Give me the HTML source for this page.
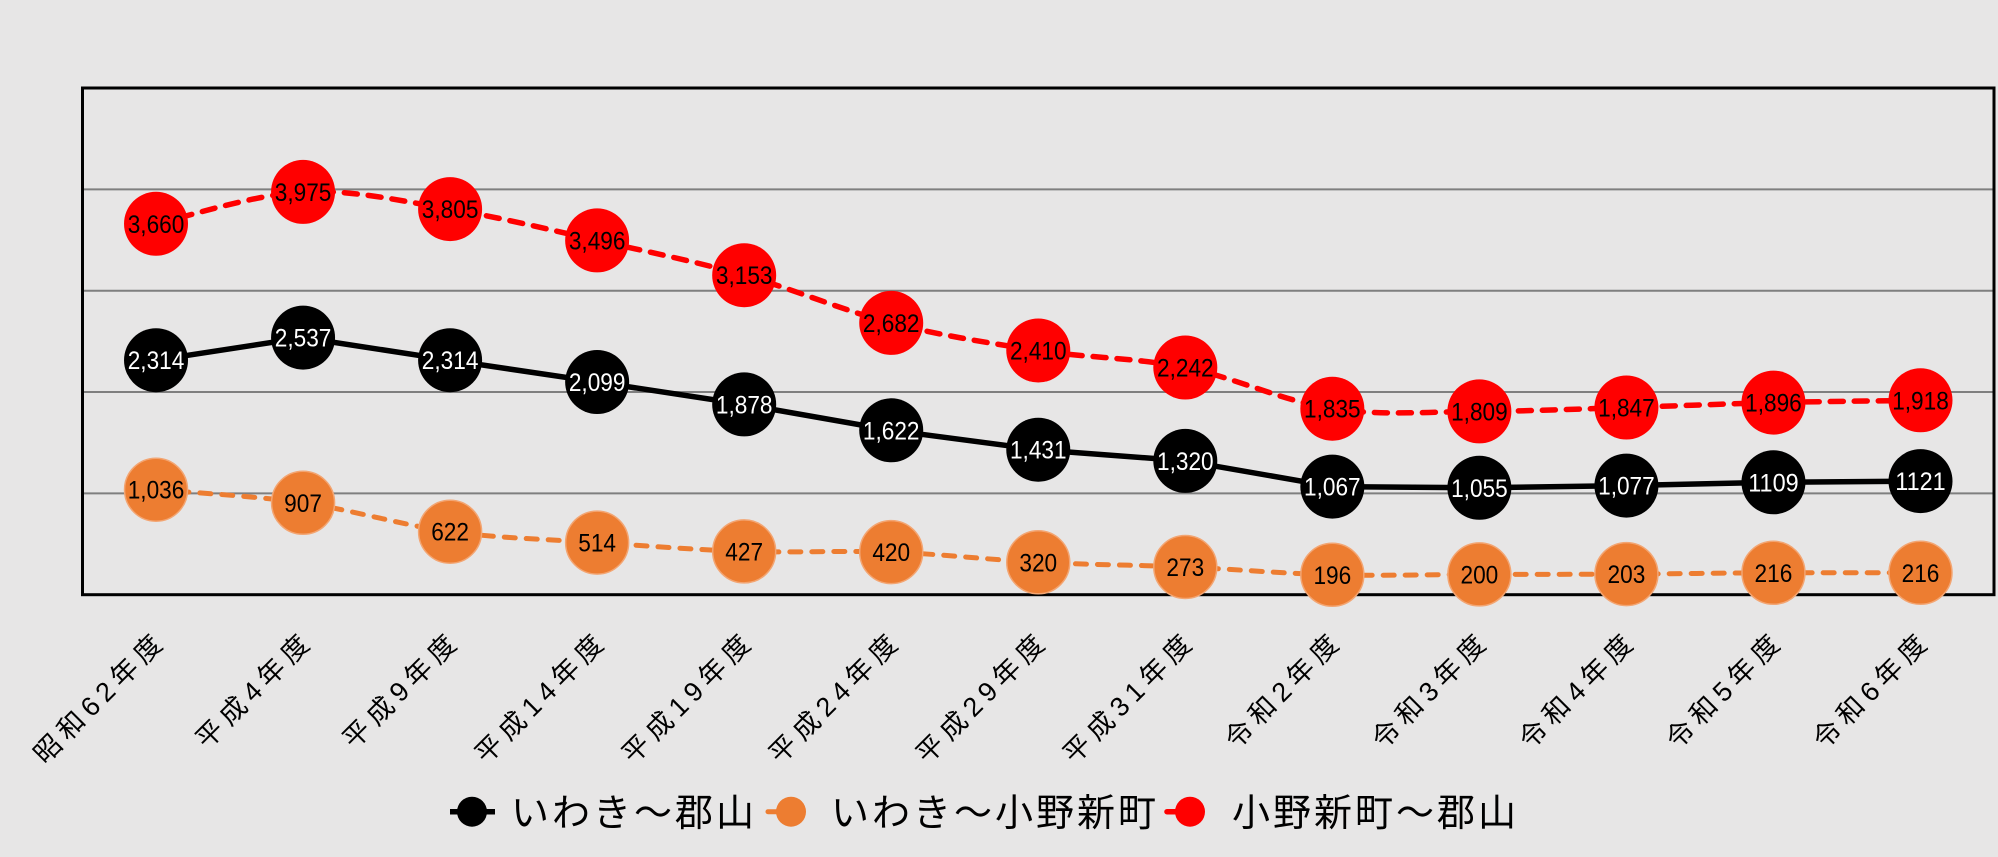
<!DOCTYPE html>
<html>
<head>
<meta charset="utf-8">
<style>
  html,body{margin:0;padding:0;background:#E7E6E6;}
  svg{display:block;}
  .v{font-family:"Liberation Sans","Noto Sans CJK JP",sans-serif;font-size:25px;text-anchor:middle;}
  .xl{font-family:"Liberation Sans","Noto Sans CJK JP",sans-serif;font-size:27px;letter-spacing:6px;text-anchor:end;fill:#000;}
  .lg{font-family:"Liberation Sans","Noto Sans CJK JP",sans-serif;font-size:38px;letter-spacing:3px;fill:#000;}
</style>
</head>
<body>
<svg width="1998" height="857" viewBox="0 0 1998 857" xmlns="http://www.w3.org/2000/svg">
  <rect x="0" y="0" width="1998" height="857" fill="#E7E6E6"/>

  <!-- gridlines -->
  <g stroke="#7F7F7F" stroke-width="2">
    <line x1="82.5" y1="189.4" x2="1994" y2="189.4"/>
    <line x1="82.5" y1="290.7" x2="1994" y2="290.7"/>
    <line x1="82.5" y1="392.0" x2="1994" y2="392.0"/>
    <line x1="82.5" y1="493.4" x2="1994" y2="493.4"/>
  </g>

  <!-- frame -->
  <rect x="82.5" y="88" width="1911.5" height="506.7" fill="none" stroke="#000" stroke-width="3"/>

  <!-- black series line -->
  <polyline fill="none" stroke="#000" stroke-width="5.5" stroke-linejoin="round"
    points="156.02,360.2 303.06,337.6 450.1,360.2 597.14,382.0 744.18,404.4 891.22,430.3 1038.26,449.7 1185.3,460.9 1332.34,486.6 1479.38,487.8 1626.42,485.6 1773.46,482.3 1920.5,481.1"/>

  <!-- orange series line -->
  <path fill="none" stroke="#ED7D31" stroke-width="5" stroke-dasharray="11 11" stroke-linecap="round"
    d="M156.02,489.7 C180.5,491.9 254.06,495.8 303.06,502.8 C352.07,509.8 401.1,525.1 450.1,531.7 C499.1,538.3 548.1,539.3 597.14,542.6 C646.2,545.9 695.2,549.8 744.18,551.4 C793.2,553.0 842.2,550.3 891.22,552.1 C940.2,553.9 989.3,559.8 1038.26,562.3 C1087.3,564.8 1136.3,564.9 1185.3,567.0 C1234.3,569.1 1283.3,573.6 1332.34,574.8 C1381.3,576.0 1430.4,574.5 1479.38,574.4 C1528.4,574.3 1577.4,574.4 1626.42,574.1 C1675.4,573.8 1724.5,573.0 1773.46,572.8 C1822.5,572.6 1896,572.8 1920.5,572.8"/>

  <!-- red series line -->
  <path fill="none" stroke="#FF0000" stroke-width="5.5" stroke-dasharray="13 11" stroke-linecap="round"
    d="M156.02,223.8 C180.5,218.5 254.06,194.35 303.06,191.9 C352.07,189.45 401.1,201.0 450.1,209.1 C499.1,217.2 548.1,229.4 597.14,240.4 C646.2,251.4 695.2,261.5 744.18,275.2 C793.2,288.9 842.2,310.4 891.22,322.9 C940.2,335.4 989.3,343.1 1038.26,350.5 C1087.3,357.9 1136.3,357.8 1185.3,367.5 C1234.3,377.2 1283.3,401.4 1332.34,408.7 C1381.3,416.0 1430.4,411.6 1479.38,411.4 C1528.4,411.2 1577.4,409.0 1626.42,407.5 C1675.4,406.0 1724.5,403.8 1773.46,402.6 C1822.5,401.4 1896,400.7 1920.5,400.3"/>

  <!-- black markers -->
  <g fill="#000">
    <circle cx="156.02" cy="360.2" r="32"/>
    <circle cx="303.06" cy="337.6" r="32"/>
    <circle cx="450.1" cy="360.2" r="32"/>
    <circle cx="597.14" cy="382.0" r="32"/>
    <circle cx="744.18" cy="404.4" r="32"/>
    <circle cx="891.22" cy="430.3" r="32"/>
    <circle cx="1038.26" cy="449.7" r="32"/>
    <circle cx="1185.3" cy="460.9" r="32"/>
    <circle cx="1332.34" cy="486.6" r="32"/>
    <circle cx="1479.38" cy="487.8" r="32"/>
    <circle cx="1626.42" cy="485.6" r="32"/>
    <circle cx="1773.46" cy="482.3" r="32"/>
    <circle cx="1920.5" cy="481.1" r="32"/>
  </g>

  <!-- orange markers -->
  <g fill="#ED7D31" stroke="#F3A572" stroke-width="1.5">
    <circle cx="156.02" cy="489.7" r="31.5"/>
    <circle cx="303.06" cy="502.8" r="31.5"/>
    <circle cx="450.1" cy="531.7" r="31.5"/>
    <circle cx="597.14" cy="542.6" r="31.5"/>
    <circle cx="744.18" cy="551.4" r="31.5"/>
    <circle cx="891.22" cy="552.1" r="31.5"/>
    <circle cx="1038.26" cy="562.3" r="31.5"/>
    <circle cx="1185.3" cy="567.0" r="31.5"/>
    <circle cx="1332.34" cy="574.8" r="31.5"/>
    <circle cx="1479.38" cy="574.4" r="31.5"/>
    <circle cx="1626.42" cy="574.1" r="31.5"/>
    <circle cx="1773.46" cy="572.8" r="31.5"/>
    <circle cx="1920.5" cy="572.8" r="31.5"/>
  </g>

  <!-- red markers -->
  <g fill="#FF0000">
    <circle cx="156.02" cy="223.8" r="32"/>
    <circle cx="303.06" cy="191.9" r="32"/>
    <circle cx="450.1" cy="209.1" r="32"/>
    <circle cx="597.14" cy="240.4" r="32"/>
    <circle cx="744.18" cy="275.2" r="32"/>
    <circle cx="891.22" cy="322.9" r="32"/>
    <circle cx="1038.26" cy="350.5" r="32"/>
    <circle cx="1185.3" cy="367.5" r="32"/>
    <circle cx="1332.34" cy="408.7" r="32"/>
    <circle cx="1479.38" cy="411.4" r="32"/>
    <circle cx="1626.42" cy="407.5" r="32"/>
    <circle cx="1773.46" cy="402.6" r="32"/>
    <circle cx="1920.5" cy="400.3" r="32"/>
  </g>

  <!-- black labels (white text) -->
  <g class="v" fill="#FFFFFF">
    <text x="156.02" y="369.2" textLength="56.6" lengthAdjust="spacingAndGlyphs">2,314</text>
    <text x="303.06" y="346.6" textLength="56.6" lengthAdjust="spacingAndGlyphs">2,537</text>
    <text x="450.1" y="369.2" textLength="56.6" lengthAdjust="spacingAndGlyphs">2,314</text>
    <text x="597.14" y="391.0" textLength="56.6" lengthAdjust="spacingAndGlyphs">2,099</text>
    <text x="744.18" y="413.4" textLength="56.6" lengthAdjust="spacingAndGlyphs">1,878</text>
    <text x="891.22" y="439.3" textLength="56.6" lengthAdjust="spacingAndGlyphs">1,622</text>
    <text x="1038.26" y="458.7" textLength="56.6" lengthAdjust="spacingAndGlyphs">1,431</text>
    <text x="1185.3" y="469.9" textLength="56.6" lengthAdjust="spacingAndGlyphs">1,320</text>
    <text x="1332.34" y="495.6" textLength="56.6" lengthAdjust="spacingAndGlyphs">1,067</text>
    <text x="1479.38" y="496.8" textLength="56.6" lengthAdjust="spacingAndGlyphs">1,055</text>
    <text x="1626.42" y="494.6" textLength="56.6" lengthAdjust="spacingAndGlyphs">1,077</text>
    <text x="1773.46" y="491.3" textLength="50.4" lengthAdjust="spacingAndGlyphs">1109</text>
    <text x="1920.5" y="490.1" textLength="50.4" lengthAdjust="spacingAndGlyphs">1121</text>
  </g>

  <!-- orange labels -->
  <g class="v" fill="#000">
    <text x="156.02" y="498.7" textLength="56.6" lengthAdjust="spacingAndGlyphs">1,036</text>
    <text x="303.06" y="511.8" textLength="37.8" lengthAdjust="spacingAndGlyphs">907</text>
    <text x="450.1" y="540.7" textLength="37.8" lengthAdjust="spacingAndGlyphs">622</text>
    <text x="597.14" y="551.6" textLength="37.8" lengthAdjust="spacingAndGlyphs">514</text>
    <text x="744.18" y="560.4" textLength="37.8" lengthAdjust="spacingAndGlyphs">427</text>
    <text x="891.22" y="561.1" textLength="37.8" lengthAdjust="spacingAndGlyphs">420</text>
    <text x="1038.26" y="571.3" textLength="37.8" lengthAdjust="spacingAndGlyphs">320</text>
    <text x="1185.3" y="576.0" textLength="37.8" lengthAdjust="spacingAndGlyphs">273</text>
    <text x="1332.34" y="583.8" textLength="37.8" lengthAdjust="spacingAndGlyphs">196</text>
    <text x="1479.38" y="583.4" textLength="37.8" lengthAdjust="spacingAndGlyphs">200</text>
    <text x="1626.42" y="583.1" textLength="37.8" lengthAdjust="spacingAndGlyphs">203</text>
    <text x="1773.46" y="581.8" textLength="37.8" lengthAdjust="spacingAndGlyphs">216</text>
    <text x="1920.5" y="581.8" textLength="37.8" lengthAdjust="spacingAndGlyphs">216</text>
  </g>

  <!-- red labels -->
  <g class="v" fill="#000">
    <text x="156.02" y="232.8" textLength="56.6" lengthAdjust="spacingAndGlyphs">3,660</text>
    <text x="303.06" y="200.9" textLength="56.6" lengthAdjust="spacingAndGlyphs">3,975</text>
    <text x="450.1" y="218.1" textLength="56.6" lengthAdjust="spacingAndGlyphs">3,805</text>
    <text x="597.14" y="249.4" textLength="56.6" lengthAdjust="spacingAndGlyphs">3,496</text>
    <text x="744.18" y="284.2" textLength="56.6" lengthAdjust="spacingAndGlyphs">3,153</text>
    <text x="891.22" y="331.9" textLength="56.6" lengthAdjust="spacingAndGlyphs">2,682</text>
    <text x="1038.26" y="359.5" textLength="56.6" lengthAdjust="spacingAndGlyphs">2,410</text>
    <text x="1185.3" y="376.5" textLength="56.6" lengthAdjust="spacingAndGlyphs">2,242</text>
    <text x="1332.34" y="417.7" textLength="56.6" lengthAdjust="spacingAndGlyphs">1,835</text>
    <text x="1479.38" y="420.4" textLength="56.6" lengthAdjust="spacingAndGlyphs">1,809</text>
    <text x="1626.42" y="416.5" textLength="56.6" lengthAdjust="spacingAndGlyphs">1,847</text>
    <text x="1773.46" y="411.6" textLength="56.6" lengthAdjust="spacingAndGlyphs">1,896</text>
    <text x="1920.5" y="409.3" textLength="56.6" lengthAdjust="spacingAndGlyphs">1,918</text>
  </g>

  <!-- x axis labels -->
  <g class="xl">
    <text transform="translate(168,642) rotate(-45)" x="0" y="0">昭和62年度</text>
    <text transform="translate(315.06,642) rotate(-45)" x="0" y="0">平成4年度</text>
    <text transform="translate(462.1,642) rotate(-45)" x="0" y="0">平成9年度</text>
    <text transform="translate(609.14,642) rotate(-45)" x="0" y="0">平成14年度</text>
    <text transform="translate(756.18,642) rotate(-45)" x="0" y="0">平成19年度</text>
    <text transform="translate(903.22,642) rotate(-45)" x="0" y="0">平成24年度</text>
    <text transform="translate(1050.26,642) rotate(-45)" x="0" y="0">平成29年度</text>
    <text transform="translate(1197.3,642) rotate(-45)" x="0" y="0">平成31年度</text>
    <text transform="translate(1344.34,642) rotate(-45)" x="0" y="0">令和2年度</text>
    <text transform="translate(1491.38,642) rotate(-45)" x="0" y="0">令和3年度</text>
    <text transform="translate(1638.42,642) rotate(-45)" x="0" y="0">令和4年度</text>
    <text transform="translate(1785.46,642) rotate(-45)" x="0" y="0">令和5年度</text>
    <text transform="translate(1932.5,642) rotate(-45)" x="0" y="0">令和6年度</text>
  </g>

  <!-- legend -->
  <line x1="450" y1="811.7" x2="495" y2="811.7" stroke="#000" stroke-width="5.5"/>
  <circle cx="472" cy="811.7" r="15" fill="#000"/>
  <text class="lg" x="511" y="826">いわき～郡山</text>

  <line x1="768" y1="811.7" x2="791" y2="811.7" stroke="#ED7D31" stroke-width="5" stroke-linecap="round"/>
  <circle cx="791" cy="811.7" r="15" fill="#ED7D31"/>
  <text class="lg" x="831" y="826">いわき～小野新町</text>

  <line x1="1167" y1="811.7" x2="1190" y2="811.7" stroke="#FF0000" stroke-width="5.5" stroke-linecap="round"/>
  <circle cx="1190" cy="811.7" r="15" fill="#FF0000"/>
  <text class="lg" x="1232" y="826">小野新町～郡山</text>
</svg>
</body>
</html>
